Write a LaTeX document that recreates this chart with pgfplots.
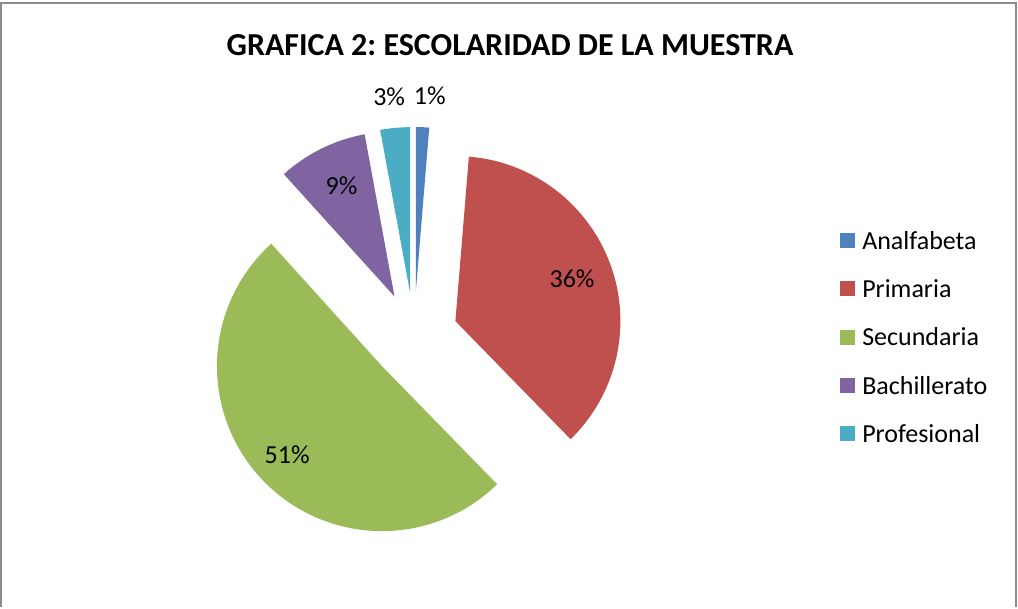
\documentclass[border=0pt]{standalone}
\usepackage{pgfplots}
\pgfplotsset{compat=1.18}
\usepackage{pgfplotstable}
\usepackage{fontspec}
\setmainfont{Carlito}
\frenchspacing

\definecolor{c0}{HTML}{4F81BD}
\definecolor{c1}{HTML}{C0504D}
\definecolor{c2}{HTML}{9BBB59}
\definecolor{c3}{HTML}{8064A2}
\definecolor{c4}{HTML}{4BACC6}
\definecolor{marco}{HTML}{8C8C8C}

% porcentaje por nivel; lab = distancia de la etiqueta (px), dx = ajuste horizontal
\pgfplotstableread{
name         value lab dx
Analfabeta   1.3   196 6
Primaria     36.4  124 0
Secundaria   50.6  130 0
Bachillerato 8.8   124 2
Profesional  2.9   196 -3
}\esctable

\def\cx{414}\def\cy{271}\def\dd{44}

\begin{document}
% angulos de cada sector (estilo Excel: desde arriba, horario)
\def\cumsum{0}%
\pgfplotsforeachungrouped \i in {0,...,4}{%
  \pgfplotstablegetelem{\i}{value}\of\esctable\let\pval\pgfplotsretval
  \pgfplotstablegetelem{\i}{lab}\of\esctable\let\plab\pgfplotsretval
  \pgfplotstablegetelem{\i}{dx}\of\esctable\let\pdx\pgfplotsretval
  \pgfplotstablegetelem{\i}{name}\of\esctable\let\pname\pgfplotsretval
  \pgfmathsetmacro\angA{90-3.6*\cumsum}%
  \pgfmathsetmacro\cumsum{\cumsum+\pval}%
  \pgfmathsetmacro\angB{90-3.6*\cumsum}%
  \pgfmathsetmacro\angM{(\angA+\angB)/2}%
  \pgfmathsetmacro\px{\cx+\dd*cos(\angM)}%
  \pgfmathsetmacro\py{\cy+\dd*sin(\angM)}%
  \pgfmathsetmacro\qx{\px+\plab*cos(\angM)+\pdx}%
  \pgfmathsetmacro\qy{\py+\plab*sin(\angM)}%
  \pgfmathtruncatemacro\pround{round(\pval)}%
  \expandafter\xdef\csname sa\i\endcsname{\angA}%
  \expandafter\xdef\csname sb\i\endcsname{\angB}%
  \expandafter\xdef\csname vx\i\endcsname{\px}%
  \expandafter\xdef\csname vy\i\endcsname{\py}%
  \expandafter\xdef\csname lx\i\endcsname{\qx}%
  \expandafter\xdef\csname ly\i\endcsname{\qy}%
  \expandafter\xdef\csname pv\i\endcsname{\pround}%
  \expandafter\xdef\csname nm\i\endcsname{\pname}%
}%
\begin{tikzpicture}
\begin{axis}[
  x=0.75pt, y=0.75pt,
  xmin=0, xmax=1018, ymin=0, ymax=607,
  hide axis, clip=false,
  scale only axis,
]
\path (axis cs:0,0) rectangle (axis cs:1018,607);
\draw[marco, line width=1.5pt] (axis cs:1.5,0) -- (axis cs:1.5,604) -- (axis cs:1016,604) -- (axis cs:1016,0);

\node[font=\fontsize{24}{28}\selectfont\bfseries] at (axis cs:510,562) {GRAFICA 2: ESCOLARIDAD DE LA MUESTRA};

\pgfplotsinvokeforeach{0,...,4}{
  \fill[c#1] (axis cs:\csname vx#1\endcsname,\csname vy#1\endcsname)
    -- ++(\csname sa#1\endcsname:123.75pt)
    arc[start angle=\csname sa#1\endcsname, end angle=\csname sb#1\endcsname, radius=123.75pt]
    -- cycle;
  \node[font=\fontsize{19.5}{23}\selectfont] at (axis cs:\csname lx#1\endcsname,\csname ly#1\endcsname) {\csname pv#1\endcsname\%};
  \fill[c#1] (axis cs:840,{358.8-48.25*#1}) rectangle (axis cs:855,{373.8-48.25*#1});
  \node[font=\fontsize{19.5}{23}\selectfont, anchor=base west, inner sep=0pt] at (axis cs:862,{357.6-48.25*#1}) {\csname nm#1\endcsname};
}
\end{axis}
\end{tikzpicture}
\end{document}
